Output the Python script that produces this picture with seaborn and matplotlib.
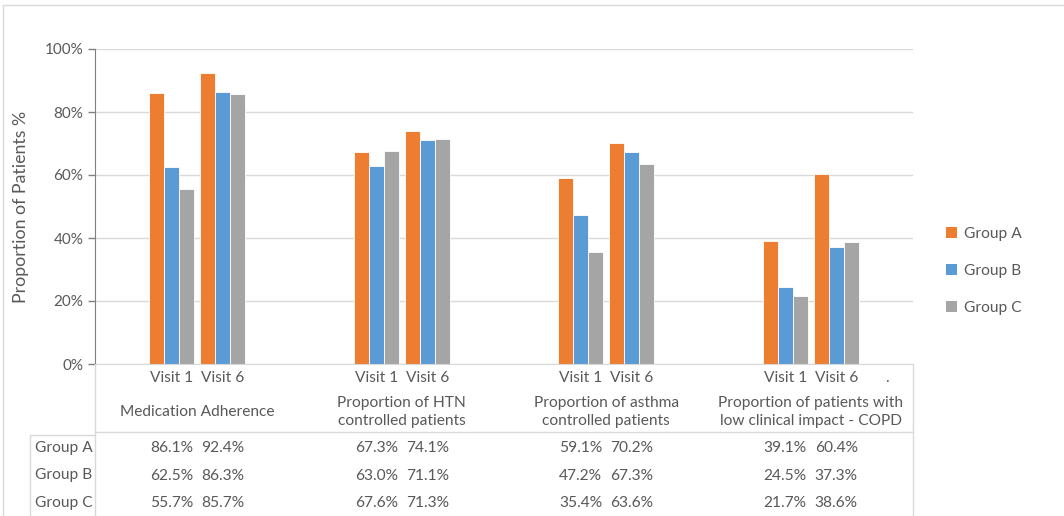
import matplotlib
matplotlib.use("Agg")
import matplotlib.pyplot as plt
import matplotlib.transforms as mtransforms
from matplotlib.lines import Line2D
from matplotlib.patches import Patch
from matplotlib.ticker import PercentFormatter
import pandas as pd
import seaborn as sns

categories = ["Medication Adherence",
              "Proportion of HTN\ncontrolled patients",
              "Proportion of asthma\ncontrolled patients",
              "Proportion of patients with\nlow clinical impact - COPD"]
visits = ["Visit 1", "Visit 6"]
groups = ["Group A", "Group B", "Group C"]
group_a = [86.1, 92.4, 67.3, 74.1, 59.1, 70.2, 39.1, 60.4]
group_b = [62.5, 86.3, 63.0, 71.1, 47.2, 67.3, 24.5, 37.3]
group_c = [55.7, 85.7, 67.6, 71.3, 35.4, 63.6, 21.7, 38.6]
colors = ["#ED7D31", "#5B9BD5", "#A5A5A5"]

W, H = 1064, 516
TXT = "#595959"
LINE = "#D9D9D9"
FS = 11.2

# long table, each category gets 4 slots: blank, Visit 1, Visit 6, blank
rows = []
for g, vals in zip(groups, [group_a, group_b, group_c]):
    for i, cat in enumerate(categories):
        for j, v in enumerate(visits):
            rows.append({"slot": f"{i}|{v}", "group": g, "value": vals[2 * i + j]})
df = pd.DataFrame(rows)

order = []
for i in range(len(categories)):
    order += [f"{i}|pre", f"{i}|{visits[0]}", f"{i}|{visits[1]}", f"{i}|post"]

sns.set_style("white")
plt.rcParams["font.family"] = ["Lato", "DejaVu Sans"]

fig = plt.figure(figsize=(W / 100, H / 100), dpi=100)
ax = fig.add_axes([95 / W, 1 - 364 / H, (913 - 95) / W, (364 - 49) / H])

sns.barplot(data=df, x="slot", y="value", hue="group", order=order,
            hue_order=groups, palette=colors, saturation=1, width=0.88,
            edgecolor="white", linewidth=0.6, legend=False, ax=ax)

ax.set_xlim(-0.5, len(order) - 0.5)
ax.set_ylim(0, 100)
ax.set_yticks(range(0, 101, 20))
ax.yaxis.set_major_formatter(PercentFormatter(decimals=0))
ax.set_xticks([])
ax.set_xlabel("")
ax.set_ylabel("Proportion of Patients %", color=TXT, fontsize=12.8, labelpad=11)
ax.tick_params(axis="y", colors=TXT, labelsize=11, length=5, width=1, direction="out", left=True)
ax.tick_params(axis="y", color="#808080")
ax.grid(axis="y", color=LINE, linewidth=1)
ax.set_axisbelow(True)
for s in ["top", "right"]:
    ax.spines[s].set_visible(False)
ax.spines["left"].set_color("#808080")
ax.spines["bottom"].set_color(LINE)

# data table text under the axis
tr = mtransforms.blended_transform_factory(ax.transData, fig.transFigure)
fy = lambda y: 1 - y / H
for i, cat in enumerate(categories):
    base = 4 * i
    for j, v in enumerate(visits):
        ax.text(base + 1 + j, fy(378), v, transform=tr, ha="center", va="center",
                color=TXT, fontsize=FS)
        for r, vals in enumerate([group_a, group_b, group_c]):
            ax.text(base + 1 + j, fy(448 + 27.5 * r), f"{vals[2 * i + j]:.1f}%",
                    transform=tr, ha="center", va="center", color=TXT, fontsize=FS)
    ax.text(base + 1.5, fy(412), cat, transform=tr, ha="center", va="center",
            color=TXT, fontsize=FS, linespacing=1.3)
ax.text(15, fy(378), ".", transform=tr, ha="center", va="center", color=TXT, fontsize=FS)

for r, g in enumerate(groups):
    fig.text(35 / W, fy(448 + 27.5 * r), g, ha="left", va="center", color=TXT, fontsize=FS)

def fline(x0, y0, x1, y1, c=LINE):
    fig.add_artist(Line2D([x0 / W, x1 / W], [fy(y0), fy(y1)], color=c, linewidth=1))

fline(95, 364, 95, 516)
fline(913, 364, 913, 516)
fline(95, 432, 913, 432)
fline(30, 435, 95, 435)
fline(30, 435, 30, 516)
# chart frame
fline(3, 5, 3, 516)
fline(3, 5, W, 5)

handles = [Patch(facecolor=c, edgecolor="none") for c in colors]
fig.legend(handles, groups, loc="center left", bbox_to_anchor=(932 / W, fy(271)),
           frameon=False, handlelength=0.7, handleheight=0.7, handletextpad=0.45,
           labelspacing=1.5, fontsize=FS, labelcolor=TXT)

fig.savefig("out.png", dpi=100)
